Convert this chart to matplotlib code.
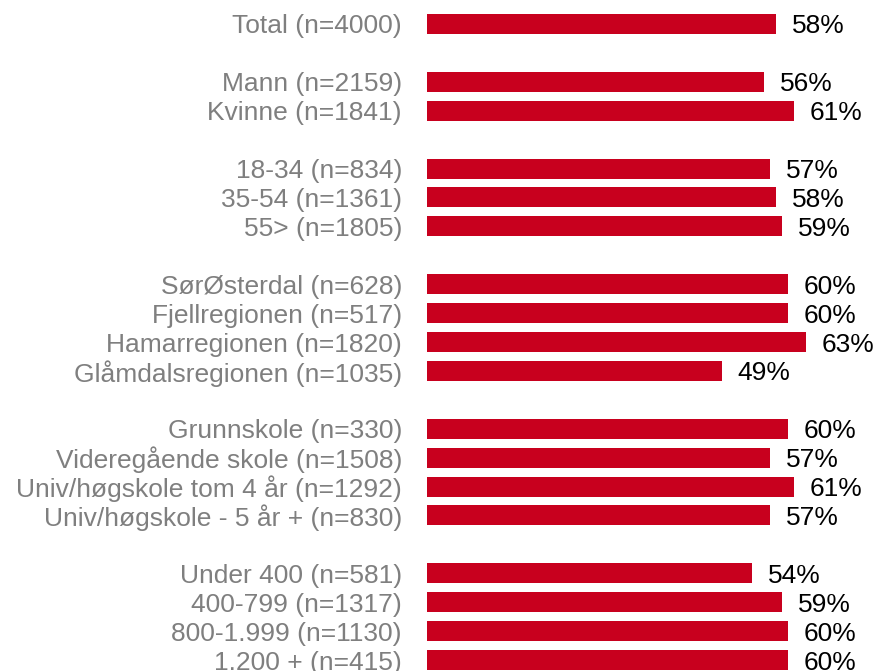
import matplotlib.pyplot as plt

labels = ["Total (n=4000)", "",
          "Mann (n=2159)", "Kvinne (n=1841)", "",
          "18-34 (n=834)", "35-54 (n=1361)", "55> (n=1805)", "",
          "SørØsterdal (n=628)", "Fjellregionen (n=517)", "Hamarregionen (n=1820)",
          "Glåmdalsregionen (n=1035)", "",
          "Grunnskole (n=330)", "Videregående skole (n=1508)",
          "Univ/høgskole tom 4 år (n=1292)", "Univ/høgskole - 5 år + (n=830)", "",
          "Under 400 (n=581)", "400-799 (n=1317)", "800-1.999 (n=1130)", "1.200 + (n=415)"]
values = [58, None,
          56, 61, None,
          57, 58, 59, None,
          60, 60, 63, 49, None,
          60, 57, 61, 57, None,
          54, 59, 60, 60]

plt.rcParams['font.family'] = ['Liberation Sans', 'DejaVu Sans']

fig = plt.figure(figsize=(8.79, 6.71), dpi=100)
ax = fig.add_axes([427 / 879, 0, 452 / 879, 1])

pos = [i for i, v in enumerate(values) if v is not None]
vals = [values[i] for i in pos]
ax.barh(pos, vals, height=0.69, color="#C8001E")

for y, v in zip(pos, vals):
    ax.text(v + 2.6, y, f"{v}%", va="center_baseline", ha="left", fontsize=19, color="black")

ax.set_yticks(pos)
ax.set_yticklabels([labels[i] for i in pos], fontsize=19, color="#7F7F7F")
for lbl in ax.get_yticklabels():
    lbl.set_va("center_baseline")
ax.tick_params(axis="y", length=0, pad=18)
ax.set_xticks([])
ax.set_xlim(0, 75.1)
ax.set_ylim(22.38, -0.83)
for s in ax.spines.values():
    s.set_visible(False)

fig.savefig("out.png", dpi=100)
